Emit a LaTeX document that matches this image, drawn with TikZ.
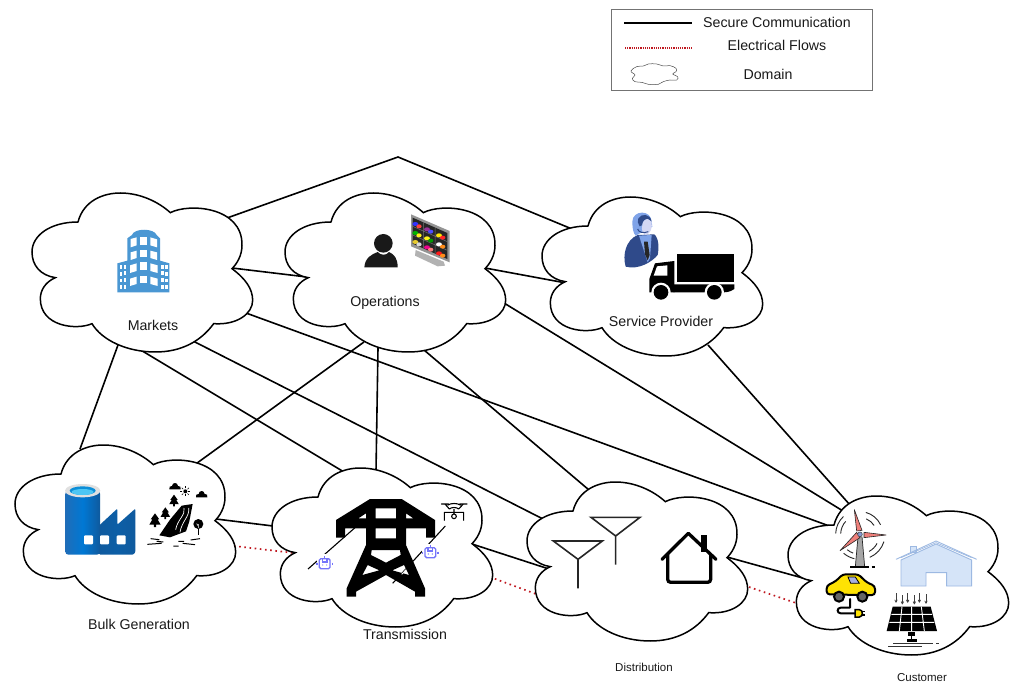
\documentclass[tikz,border=0pt]{standalone}
\usepackage{fontspec}
\setmainfont{Liberation Sans}
\usetikzlibrary{calc,arrows.meta}
\definecolor{bldblue}{HTML}{4A97D3}
\definecolor{navy}{HTML}{2F4A8A}
\definecolor{purp}{HTML}{7474FA}
\definecolor{flowred}{HTML}{C01820}
\definecolor{hfill}{HTML}{D5E4F8}
\definecolor{hline}{HTML}{9DB9E2}
\definecolor{agenthair}{HTML}{7FA3E8}
\definecolor{agentface}{HTML}{D3D7F4}
\definecolor{blade}{HTML}{EE7F7A}
\definecolor{azl}{HTML}{1F6DB8}
\definecolor{azm}{HTML}{0078D4}
\definecolor{azd}{HTML}{0F5A9E}
\tikzset{
  x=1pt,y=-1pt,
  zoomed/.style={x=0.33333pt,y=-0.33333pt},
  comm/.style={draw=black,line width=1.6pt},
  flow/.style={draw=flowred,line width=1.7pt,dash pattern=on 1.6pt off 3.6pt},
  cloudline/.style={draw=black,line width=1.5pt,fill=white,line join=miter},
  lbl/.style={font=\fontsize{14.2}{16}\selectfont,text=black!90,inner sep=0pt},
  smalllbl/.style={font=\fontsize{11.5}{13}\selectfont,text=black!90,inner sep=0pt},
  robotline/.style={draw=purp,line width=1.3pt},
  bladeicon/.style={fill=blade,draw=black!85,line width=.6pt,line join=round},
}
\newcommand{\domaincloud}[3]{%
  \coordinate (#1) at (#2+110,#3+80);
  \draw[cloudline,shift={(#2,#3)},zoomed]
   (138,87) .. controls (155,22) and (215,0) .. (265,0)
   .. controls (325,0) and (380,27) .. (415,59)
   .. controls (470,30) and (632,40) .. (630,157)
   .. controls (630,187) and (615,212) .. (600,227)
   .. controls (640,257) and (662,287) .. (662,322)
   .. controls (662,362) and (615,397) .. (545,392)
   .. controls (505,447) and (445,477) .. (370,477)
   .. controls (285,477) and (210,442) .. (180,392)
   .. controls (135,412) and (25,402) .. (25,317)
   .. controls (25,292) and (40,267) .. (70,254)
   .. controls (25,247) and (0,217) .. (0,177)
   .. controls (0,127) and (55,87) .. (138,87) -- cycle;}
\newcommand{\pinetree}[3]{% x y size
  \fill (#1,#2-#3) -- (#1+#3*.5,#2-#3*.3) -- (#1+#3*.3,#2-#3*.3) -- (#1+#3*.65,#2+#3*.3) -- (#1+#3*.12,#2+#3*.3)
   -- (#1+#3*.12,#2+#3*.6) -- (#1-#3*.12,#2+#3*.6) -- (#1-#3*.12,#2+#3*.3) -- (#1-#3*.65,#2+#3*.3) -- (#1-#3*.3,#2-#3*.3) -- (#1-#3*.5,#2-#3*.3) -- cycle;}
\newcommand{\puffcloud}[2]{%
  \fill (#1-17,#2+8) .. controls (#1-20,#2+1) and (#1-14,#2-3) .. (#1-9,#2-2)
   .. controls (#1-8,#2-14) and (#1+8,#2-14) .. (#1+9,#2-2)
   .. controls (#1+14,#2-3) and (#1+20,#2+1) .. (#1+17,#2+8) -- cycle;}
\newcommand{\robotface}[2]{%
  \draw[robotline,rounded corners=1.5pt] (#1-16,#2-15) rectangle (#1+16,#2+15);
  \draw[robotline] (#1-7,#2-15) rectangle (#1+7,#2-5);
  \draw[robotline] (#1,#2-15) -- (#1,#2-24);
  \draw[robotline] (#1-23,#2-3) -- (#1-23,#2+5);
  \draw[robotline] (#1+23,#2-3) -- (#1+23,#2+5);
  \fill[purp] (#1-6,#2+4) circle (2) (#1+6,#2+4) circle (2);}
\begin{document}
\begin{tikzpicture}
\useasboundingbox (0,0) rectangle (1014,684);
% connector ends
\coordinate (mkTop) at (227,218);
\coordinate (peak) at (398,157);
\coordinate (spTop) at (572,229);
\coordinate (mkOps) at (232,268);
\coordinate (opMk) at (307,277);
\coordinate (opSp) at (485,268);
\coordinate (spOp) at (566,283);
\coordinate (opCu) at (504,303);
\coordinate (cuOp) at (843,511);
\coordinate (spCu) at (708,345);
\coordinate (cuSp) at (850,505);
\coordinate (mkCu) at (246,313);
\coordinate (cuMk) at (832,527);
\coordinate (mkDi) at (193,341);
\coordinate (diMk) at (543,519);
\coordinate (mkTr) at (139,349);
\coordinate (trMk) at (344,472);
\coordinate (mkBu) at (118,345);
\coordinate (buMk) at (80,449);
\coordinate (opBu) at (364,342);
\coordinate (buOp) at (193,466);
\coordinate (opTr) at (378,348);
\coordinate (trOp) at (376,471);
\coordinate (opDi) at (424,350);
\coordinate (diOp) at (589,490);
\coordinate (buTr) at (216,519);
\coordinate (trBu) at (273,526);
\coordinate (trDi) at (472,544);
\coordinate (diTr) at (549,569);
\coordinate (diCu) at (727,557);
\coordinate (cuDi) at (810,580);
\coordinate (buTrE) at (234,546);
\coordinate (trBuE) at (294,553);
\coordinate (trDiE) at (490,577);
\coordinate (diTrE) at (536,594);
\coordinate (diCuE) at (749,587);
\coordinate (cuDiE) at (796,603);
% connectors
\draw[comm,line join=miter] (mkTop) -- (peak) -- (spTop);
\foreach \a/\b in {mkOps/opMk,opSp/spOp,opCu/cuOp,spCu/cuSp,mkCu/cuMk,mkDi/diMk,mkTr/trMk,mkBu/buMk,opBu/buOp,opTr/trOp,opDi/diOp,buTr/trBu,trDi/diTr,diCu/cuDi}
  \draw[comm] (\a) -- (\b);
\foreach \a/\b in {buTrE/trBuE,trDiE/diTrE,diCuE/cuDiE}
  \draw[flow] (\a) -- (\b);
% clouds
\domaincloud{markets}{32}{193}
\domaincloud{operations}{285}{193}
\domaincloud{provider}{542}{197}
\domaincloud{bulk}{15}{445}
\domaincloud{transmission}{272}{468}
\domaincloud{distribution}{527}{482}
\domaincloud{customer}{788}{496}
% ---------- building
\begin{scope}[shift={(110,220)},zoomed]
\fill[bldblue] (66,45) .. controls (72,24) and (132,24) .. (140,45) -- (150,55) -- (150,122) -- (178,130) -- (178,217) -- (22,217) -- (22,130) -- (52,122) -- (52,55) -- cycle;
\fill[white] (62,57) -- (80,52) -- (80,76) -- (62,82) -- cycle;
\fill[white] (90,50) -- (111,50) -- (111,74) -- (90,74) -- cycle;
\fill[white] (121,52) -- (141,58) -- (141,82) -- (121,76) -- cycle;
\fill[white] (62,97) -- (80,92) -- (80,114) -- (62,120) -- cycle;
\fill[white] (90,89) -- (111,89) -- (111,112) -- (90,112) -- cycle;
\fill[white] (121,92) -- (141,97) -- (141,120) -- (121,114) -- cycle;
\fill[white] (60,136) -- (80,130) -- (80,153) -- (60,159) -- cycle;
\fill[white] (90,127) -- (111,127) -- (111,150) -- (90,150) -- cycle;
\fill[white] (121,130) -- (143,136) -- (143,159) -- (121,153) -- cycle;
\fill[white] (60,176) -- (80,170) -- (80,192) -- (60,198) -- cycle;
\fill[white] (90,167) -- (111,167) -- (111,190) -- (90,190) -- cycle;
\fill[white] (121,170) -- (143,176) -- (143,198) -- (121,192) -- cycle;
\foreach \yy in {136,156,176,196}{
  \fill[white] (29,\yy) rectangle (36,\yy+11);
  \fill[white] (41,\yy-2) rectangle (49,\yy+10);
  \fill[white] (154,\yy-2) rectangle (162,\yy+10);
  \fill[white] (166,\yy) rectangle (173,\yy+11);
}
\end{scope}
% ---------- person and monitor wall
\begin{scope}[shift={(355,205)},zoomed]
\fill[black!90] (85,115) circle (28);
\fill[black!90] (28,187) .. controls (30,158) and (50,148) .. (68,141) .. controls (78,152) and (94,152) .. (102,141)
  .. controls (118,148) and (128,160) .. (128,187) -- cycle;
\fill[black!30] (182,135) -- (266,170) -- (270,182) -- (248,184) -- (180,152) -- cycle;
\fill[black!42] (168,28) -- (284,78) -- (284,172) -- (168,124) -- cycle;
\fill[black!85] (173,38) -- (277,84) -- (277,162) -- (173,116) -- cycle;
\draw[black!55,line width=.5pt] (205,52) -- (205,130) (240,68) -- (240,146) (173,64) -- (277,110) (173,90) -- (277,136);
\foreach \cx/\cy/\ca/\cb in {187/60/blue!80/red!75,222/76/violet!80/blue!70,258/94/yellow!90!orange/red!85,
  187/87/green!70!black/yellow!90,222/103/yellow!90/green!60!black,258/121/white/orange!90,
  187/114/yellow!60!brown/white!70!gray,222/130/magenta/red!50,258/148/red!90/orange!90}{
  \fill[\ca] (\cx-6,\cy-3) ellipse (9 and 6);
  \fill[\cb] (\cx+5,\cy+4) ellipse (8 and 6);
}
\end{scope}
% ---------- call agent and truck
\begin{scope}[shift={(615,205)},zoomed]
\fill[navy] (32,185) .. controls (22,150) and (32,105) .. (68,90) -- (118,88) .. controls (132,100) and (132,130) .. (128,150)
  .. controls (110,172) and (70,195) .. (32,185) -- cycle;
\fill[agenthair] (72,92) -- (110,90) -- (105,160) -- (98,172) -- cycle;
\fill[black!85] (87,110) -- (98,110) -- (104,150) -- (98,166) -- (90,148) -- cycle;
\fill[agenthair] (52,50) .. controls (52,15) and (110,12) .. (110,52) -- (112,65) -- (62,92) .. controls (55,85) and (52,70) .. (52,50) -- cycle;
\fill[navy] (70,40) .. controls (80,24) and (106,26) .. (110,50) -- (98,42) .. controls (90,42) and (82,50) .. (82,60) -- (74,64) .. controls (68,56) and (67,48) .. (70,40) -- cycle;
\fill[agentface] (82,60) .. controls (82,48) and (92,42) .. (98,42) -- (110,50) .. controls (112,68) and (108,86) .. (92,90) .. controls (84,88) and (78,76) .. (82,60) -- cycle;
\draw[navy,line width=1pt] (68,72) .. controls (70,82) and (85,86) .. (100,80);
\fill[black] (186,147) rectangle (358,232);
\fill[black] (176,238) -- (358,238) -- (358,252) .. controls (345,262) and (330,262) .. (322,262) -- (176,262) -- cycle;
\fill[black] (103,262) -- (103,222) -- (120,175) -- (178,168) -- (178,262) -- cycle;
\fill[white] (126,184) -- (157,181) -- (157,212) -- (116,212) -- cycle;
\fill[white] (138,262) circle (29);
\fill[black] (138,262) circle (22);
\fill[white] (298,262) circle (29);
\fill[black] (298,262) circle (22);
\end{scope}
% ---------- factory
\begin{scope}[shift={(60,478)},zoomed]
\shade[left color=azl,right color=azd,middle color=azm,rounded corners=3pt]
  (16,38) -- (120,38) -- (120,230) -- (16,230) -- cycle;
\shade[left color=azd,right color=azd,middle color=azd!85!azm,rounded corners=1pt]
  (118,142) -- (172,92) -- (172,140) -- (226,92) -- (226,222) -- (220,230) -- (118,230) -- cycle;
\fill[black!12] (68,38) ellipse (53 and 20);
\fill[cyan!75!blue] (68,38) ellipse (39 and 13);
\fill[cyan!70!white] (68,42) ellipse (33 and 9);
\foreach \wx in {72,120,170} \fill[white,rounded corners=1pt] (\wx,172) rectangle (\wx+27,199);
\end{scope}
% ---------- landscape
\begin{scope}[shift={(60,478)},zoomed]
\puffcloud{345}{26}
\puffcloud{425}{50}
\fill (376,40) circle (6);
\foreach \ang in {0,45,...,315} \draw[line width=.5pt] ($(376,40)+(\ang:9)$) -- ($(376,40)+(\ang:15)$);
\pinetree{342}{72}{22}
\pinetree{316}{110}{22}
\pinetree{285}{132}{26}
\fill (365,83) -- (398,78) -- (388,130) -- (378,160) -- (330,178) -- (298,172) -- (330,125) -- cycle;
\draw[white,line width=.7pt] (372,90) .. controls (378,110) and (352,125) .. (347,155) (386,90) .. controls (390,115) and (365,130) .. (360,163);
\fill (415,138) circle (15);
\draw[line width=1.2pt] (415,138) -- (415,172);
\draw[white,line width=.6pt] (415,150) -- (415,138) (415,144) -- (410,137);
\draw[line width=1pt] (272,182) -- (298,185) (290,190) -- (310,192) (262,199) -- (305,196) (340,204) -- (356,204) (355,190) -- (372,190) (368,196) -- (405,200) (392,186) -- (420,182);
\end{scope}
% ---------- pylon
\begin{scope}[shift={(300,495)},zoomed]
\fill[black,even odd rule] (210,12) -- (305,12) -- (405,75) -- (405,128) -- (378,128) -- (378,100) -- (318,100) -- (318,150) -- (375,280) -- (375,305) -- (345,305) -- (345,290) -- (258,240) -- (168,290) -- (168,305) -- (140,305) -- (140,280) -- (198,150) -- (198,100) -- (135,100) -- (135,128) -- (108,128) -- (108,75) -- cycle
  (227,40) rectangle (288,70)
  (227,100) rectangle (288,130)
  (175,70) -- (198,55) -- (198,70) -- cycle
  (318,55) -- (340,70) -- (318,70) -- cycle
  (215,165) -- (300,165) -- (302,180) -- (258,203) -- (213,180) -- cycle
  (187,240) -- (203,210) -- (238,226) -- cycle
  (277,226) -- (312,210) -- (327,240) -- cycle;
\draw[line width=1.1pt] (24,222) -- (165,98);
\draw[line width=1.1pt] (436,93) -- (278,265);
\draw[white,line width=.8pt] (305,238) -- (318,224);
\fill[white] (52,176) rectangle (100,225);
\robotface{74}{206}
\fill[white] (366,148) rectangle (416,192);
\robotface{391}{173}
% drone
\draw[line width=1.1pt,line cap=round]
 (424,27) -- (446,27) (479,27) -- (501,27)
 (435,27) -- (448,42) (490,27) -- (476,42)
 (444,30) .. controls (452,24) and (472,24) .. (481,30)
 (448,42) .. controls (455,36) and (469,36) .. (476,42)
 (433,52) -- (491,52) (433,52) -- (433,76) (491,52) -- (491,76);
\draw[line width=1.1pt] (462,64) circle (7) (462,42) -- (462,57);
\end{scope}
% ---------- antennas and house
\begin{scope}[shift={(500,430)},zoomed]
\draw[line width=1.6pt,black!85] (160,333) -- (307,333) -- (234,388) -- cycle (234,388) -- (234,475);
\draw[line width=1.6pt,black!85] (273,262) -- (420,262) -- (347,318) -- cycle (347,318) -- (347,404);
\fill[black] (603,315) rectangle (622,365);
\draw[line width=3.3pt,line cap=round,line join=round] (486,388) -- (565,310) -- (648,388);
\draw[line width=3.3pt,rounded corners=3pt] (503,372) -- (503,457) -- (632,457) -- (632,372);
\end{scope}
% ---------- customer icons
\begin{scope}[shift={(820,505)},zoomed]
% turbine
\foreach \ra/\aa/\ab in {73/182/227,58/182/222,68/285/335,50/292/328,75/17/67,58/28/62,75/103/131,60/110/130}
  \draw[black!85,line width=.9pt] ($(120,88)+(\aa:\ra)$) arc (\aa:\ab:\ra);
\fill[black!35] (114,95) -- (126,95) -- (134,185) -- (106,185) -- cycle;
\draw[black!85,line width=.7pt] (114,95) -- (106,185) (126,95) -- (134,185);
\draw[line width=1.3pt] (90,186) -- (148,186) (155,186) -- (165,186);
\draw[bladeicon] (126,76) -- (103,14) -- (110,78) -- cycle;
\draw[bladeicon] (132,82) -- (198,90) -- (132,98) -- cycle;
\draw[bladeicon] (110,82) -- (60,137) -- (120,98) -- cycle;
\draw[fill=cyan!35!blue!50!white,draw=black!70,line width=.6pt] (120,88) circle (7);
% house
\draw[hline,fill=hfill,line width=.9pt] (243,165) -- (348,117) -- (455,165) -- (455,243) -- (380,243) -- (380,203) -- (318,203) -- (318,243) -- (243,243) -- cycle;
\draw[hline,fill=hfill,line width=.9pt] (270,125) rectangle (290,143);
\draw[hline,line width=.9pt,line join=miter] (228,163) -- (348,108) -- (470,163);
\draw[hline,line width=.7pt] (243,158) -- (348,113) -- (455,158);
% car
\draw[line width=2pt,line join=round,line cap=round] (90,282) -- (90,308) -- (62,308) .. controls (50,308) and (50,325) .. (62,325) -- (105,325);
\draw[fill=yellow!85!orange,draw=black,line width=2pt,line join=round,rounded corners=3pt] (20,268) -- (20,242) -- (48,228) -- (68,208) -- (115,208) -- (140,232) -- (165,243) -- (165,270) -- (120,270) -- cycle;
\draw[fill=cyan!30!blue!35!white,draw=black,line width=.8pt] (84,216) -- (106,216) -- (118,235) -- (92,235) -- cycle;
\draw[fill=black!60,draw=black,line width=2pt] (57,275) circle (15) (127,275) circle (15);
\draw[fill=yellow!85!orange,draw=black,line width=1.5pt] (105,314) -- (118,314) .. controls (130,314) and (130,336) .. (118,336) -- (105,336) -- cycle;
\draw[line width=1.3pt] (127,320) -- (136,320) (127,330) -- (136,330);
% solar
\foreach \ax/\ay in {228/265,247/270,263/265,283/270,298/265,318/268}
  \draw[black!75,line width=.8pt,-{To[length=3pt,width=3pt]}] (\ax,\ay) -- (\ax,\ay+28);
\fill[black] (218,305) -- (332,305) -- (351,378) -- (200,378) -- cycle;
\draw[white,line width=.9pt] (246,305) -- (238,378) (275,305) -- (275,378) (304,305) -- (313,378)
  (214,328) -- (336,328) (208,352) -- (343,352);
\fill[black] (265,382) rectangle (285,392);
\draw[line width=1.3pt] (275,392) -- (275,405);
\fill[black] (260,403) rectangle (290,410);
\draw[line width=.8pt,black!80] (219,414) -- (338,414) (349,414) -- (357,414);
\draw[line width=.8pt,black!80] (204,424) -- (305,424);
\end{scope}
% ---------- labels
\node[lbl] (lMarkets) at (153,325) {Markets};
\node[lbl] (lOperations) at (385,302.5) {Operations};
\node[lbl] (lProvider) at (661,321.5) {Service Provider};
\node[lbl] (lBulk) at (139,624.5) {Bulk Generation};
\node[lbl] (lTrans) at (405,634) {Transmission};
\node[smalllbl] (lDist) at (644,667) {Distribution};
\node[smalllbl] (lCust) at (922,678) {Customer};
% ---------- legend
\node[draw=black!55,line width=.8pt,minimum width=261pt,minimum height=81pt,inner sep=0pt] (legend) at (741.5,49.5) {};
\coordinate (legA) at (624,23);
\coordinate (legB) at (692,23);
\coordinate (legC) at (625,48);
\coordinate (legD) at (692,48);
\draw[line width=1.7pt] (legA) -- (legB);
\draw[flowred,line width=1.5pt,dash pattern=on 1.1pt off 1.1pt] (legC) -- (legD);
\begin{scope}[shift={(500,0)},zoomed]
\draw[black!70,line width=.5pt] plot[smooth cycle,tension=.7] coordinates {(393,213) (410,200) (430,198) (445,192) (470,192) (490,198) (510,197) (528,205) (528,215) (518,222) (533,230) (530,240) (510,240) (490,245) (475,253) (445,253) (425,247) (405,245) (397,235) (405,225)};
\end{scope}
\node[lbl] (legT1) at (777,22) {Secure Communication};
\node[lbl] (legT2) at (777,45.5) {Electrical Flows};
\node[lbl] (legT3) at (768,74) {Domain};
\end{tikzpicture}
\end{document}
